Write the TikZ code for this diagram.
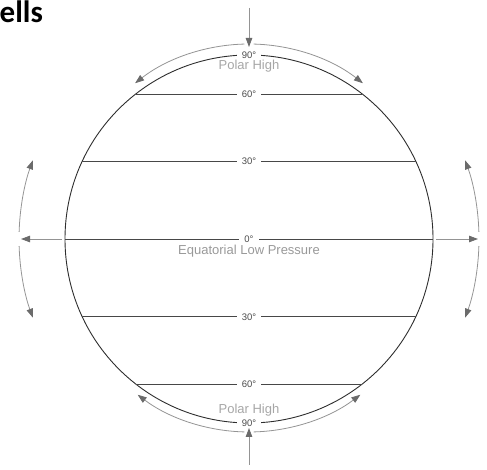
\documentclass[tikz,border=0pt]{standalone}
\usepackage{fontspec}
\setmainfont{Liberation Sans}
\newfontfamily\titlefont{Carlito}
\usetikzlibrary{arrows.meta,calc}
\begin{document}
\begin{tikzpicture}[x=1pt,y=1pt,
  lat/.style={draw=black!72, line width=0.8pt},
  deg/.style={fill=white, text=black!70, font=\fontsize{9.5}{10}\selectfont, inner xsep=5pt, inner ysep=1pt},
  big/.style={text=black!35, font=\fontsize{13}{14}\selectfont, inner sep=0pt, anchor=base},
  garrow/.style={draw=black!42, line width=0.8pt, -{Triangle[length=9pt,width=6.5pt,color=black!58]}}]
\useasboundingbox (0,0) rectangle (487,470);
% title fragment
\node[anchor=base west, inner sep=0pt, font=\titlefont\bfseries\fontsize{31}{31}\selectfont] (title) at (-0.5,447) {ells};
% globe
\coordinate (C) at (249,231);
\node[draw=black!82, line width=0.9pt, circle, minimum size=368pt, inner sep=0pt, outer sep=0pt] (globe) at (C) {};
% latitude lines
\draw[lat] (globe.128) -- node[deg] (n60) {60°} (globe.52);
\draw[lat] (globe.155) -- node[deg] (n30) {30°} (globe.25);
\draw[lat] (globe.west) -- node[deg] (eq0) {0°} (globe.east);
\draw[lat] (globe.205) -- node[deg] (s30) {30°} (globe.-25);
\draw[lat] (globe.232) -- node[deg] (s60) {60°} (globe.-52);
\node[deg] (n90) at (globe.north) {90°};
\node[deg] (s90) at (globe.south) {90°};
% labels
\node[big] (phn) at (249,400.7) {Polar High};
\node[big] (phs) at (249,56.7) {Polar High};
\node[big, text=black!40] (eq) at (249,215) {Equatorial Low Pressure};
% vertical arrows
\coordinate (ntail) at (249,462);
\coordinate (ntip) at (249,423);
\coordinate (stail) at (249,5);
\coordinate (stip) at (249,42);
\draw[garrow] (ntail) -- (ntip);
\draw[garrow] (stail) -- (stip);
% horizontal arrows
\coordinate (wtip) at (21,231);
\coordinate (etip) at (478,231);
\draw[garrow] ([xshift=-3pt]globe.west) -- (wtip);
\draw[garrow] ([xshift=3pt]globe.east) -- (etip);
% top and bottom curved arrows
\coordinate (tc) at (249,241);
\coordinate (bc) at (249,223);
\draw[garrow] ([shift={(91.4:185)}]tc) arc[start angle=91.4, end angle=128, radius=185];
\draw[garrow] ([shift={(88.6:185)}]tc) arc[start angle=88.6, end angle=52, radius=185];
\draw[garrow] ([shift={(268.6:185)}]bc) arc[start angle=268.6, end angle=233, radius=185];
\draw[garrow] ([shift={(271.4:185)}]bc) arc[start angle=271.4, end angle=307, radius=185];
% side curved arrows
\draw[garrow] ([shift={(178.25:230)}]C) arc[start angle=178.25, end angle=160, radius=230];
\draw[garrow] ([shift={(181.75:230)}]C) arc[start angle=181.75, end angle=200, radius=230];
\draw[garrow] ([shift={(1.75:230)}]C) arc[start angle=1.75, end angle=20, radius=230];
\draw[garrow] ([shift={(-1.75:230)}]C) arc[start angle=-1.75, end angle=-20, radius=230];
\end{tikzpicture}
\end{document}
